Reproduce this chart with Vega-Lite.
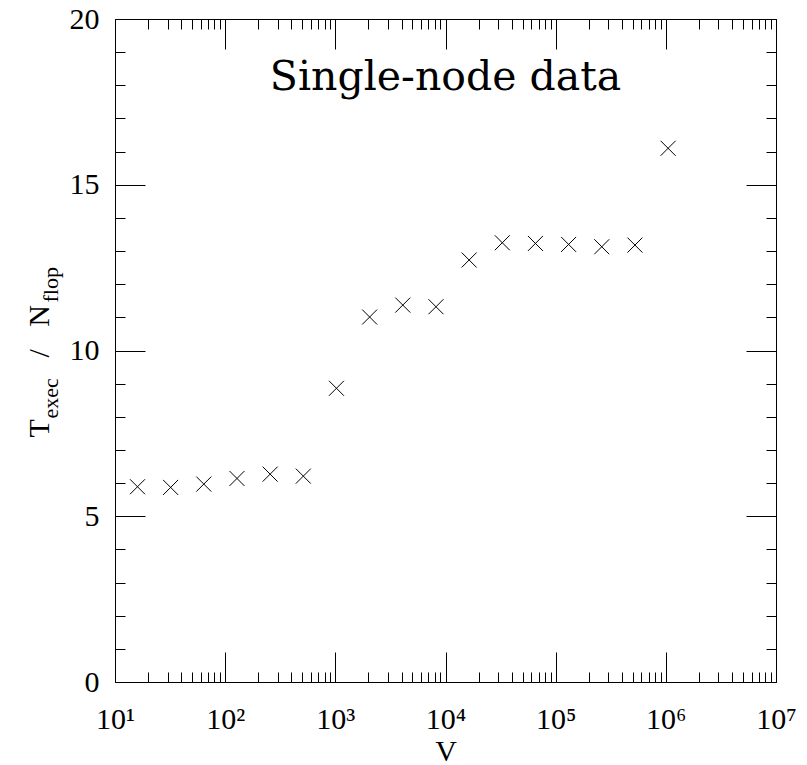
{
  "$schema": "https://vega.github.io/schema/vega-lite/v6.json",
  "width": 661,
  "height": 663,
  "autosize": {"type": "none"},
  "padding": {"left": 115, "top": 19, "right": 31, "bottom": 83},
  "background": "white",
  "view": {"stroke": null},
  "config": {
    "font": "Liberation Serif",
    "axis": {
      "domainColor": "black",
      "tickColor": "black",
      "labelColor": "black",
      "titleColor": "black",
      "domainWidth": 1,
      "tickWidth": 1,
      "grid": false,
      "labelFont": "Liberation Serif",
      "titleFont": "Liberation Serif",
      "labelFontSize": 30,
      "titleFontSize": 30,
      "titleFontWeight": "normal",
      "labelFlush": false,
      "labelOverlap": false
    }
  },
  "data": {
    "values": [
      {"V": 16, "ratio": 5.89},
      {"V": 32, "ratio": 5.87},
      {"V": 64, "ratio": 5.97},
      {"V": 128, "ratio": 6.14},
      {"V": 256, "ratio": 6.27},
      {"V": 512, "ratio": 6.21},
      {"V": 1024, "ratio": 8.86},
      {"V": 2048, "ratio": 11.01},
      {"V": 4096, "ratio": 11.37},
      {"V": 8192, "ratio": 11.32},
      {"V": 16384, "ratio": 12.73},
      {"V": 32768, "ratio": 13.25},
      {"V": 65536, "ratio": 13.23},
      {"V": 131072, "ratio": 13.2},
      {"V": 262144, "ratio": 13.13},
      {"V": 524288, "ratio": 13.18},
      {"V": 1048576, "ratio": 16.1}
    ]
  },
  "resolve": {"axis": {"x": "independent", "y": "independent"}},
  "layer": [
    {
      "mark": {"type": "point", "shape": "M-1,-1L1,1M1,-1L-1,1", "size": 225, "filled": false, "stroke": "black", "strokeWidth": 1, "opacity": 1},
      "encoding": {
        "x": {
          "field": "V", "type": "quantitative",
          "scale": {"type": "log", "domain": [10, 10000000], "nice": false},
          "axis": {
            "orient": "bottom",
            "values": [10,20,30,40,50,60,70,80,90,100,200,300,400,500,600,700,800,900,1000,2000,3000,4000,5000,6000,7000,8000,9000,10000,20000,30000,40000,50000,60000,70000,80000,90000,100000,200000,300000,400000,500000,600000,700000,800000,900000,1000000,2000000,3000000,4000000,5000000,6000000,7000000,8000000,9000000,10000000],
            "tickSize": -30,
            "labelPadding": 52,
            "tickDash": {"condition": {"test": "abs(log(datum.value)/LN10 - round(log(datum.value)/LN10)) > 0.0001", "value": [10, 40]}, "value": []},
            "labelExpr": "abs(log(datum.value)/LN10 - round(log(datum.value)/LN10)) < 0.0001 ? '10' + ['⁰','¹','²','³','⁴','⁵','⁶','⁷'][round(log(datum.value)/LN10)] : ''",
            "title": "V",
            "titleY": 78,
            "titleBaseline": "alphabetic"
          }
        },
        "y": {
          "field": "ratio", "type": "quantitative",
          "scale": {"domain": [0, 20], "nice": false, "zero": false},
          "axis": {
            "orient": "left",
            "values": [0,1,2,3,4,5,6,7,8,9,10,11,12,13,14,15,16,17,18,19,20],
            "tickSize": -30,
            "labelPadding": 46,
            "tickDash": {"condition": {"test": "datum.value % 5 != 0", "value": [10, 40]}, "value": []},
            "labelExpr": "datum.value % 5 == 0 ? datum.label : ''",
            "title": "T",
            "titleX": -67,
            "titleY": 418,
            "titleAngle": 270,
            "titleAlign": "left",
            "titleBaseline": "alphabetic"
          }
        }
      }
    },
    {
      "data": {"values": [{"label": "Single-node data"}]},
      "mark": {"type": "text", "font": "DejaVu Serif", "fontSize": 41, "fontWeight": 400, "baseline": "alphabetic", "align": "center", "fill": "black"},
      "encoding": {
        "text": {"field": "label", "type": "nominal"},
        "x": {
          "datum": 10000, "type": "quantitative",
          "axis": {
            "orient": "top",
            "values": [10,20,30,40,50,60,70,80,90,100,200,300,400,500,600,700,800,900,1000,2000,3000,4000,5000,6000,7000,8000,9000,10000,20000,30000,40000,50000,60000,70000,80000,90000,100000,200000,300000,400000,500000,600000,700000,800000,900000,1000000,2000000,3000000,4000000,5000000,6000000,7000000,8000000,9000000,10000000],
            "tickSize": -30,
            "tickDash": {"condition": {"test": "abs(log(datum.value)/LN10 - round(log(datum.value)/LN10)) > 0.0001", "value": [10, 40]}, "value": []},
            "labels": false,
            "title": null
          }
        },
        "y": {
          "datum": 17.85, "type": "quantitative",
          "axis": {
            "orient": "right",
            "values": [0,1,2,3,4,5,6,7,8,9,10,11,12,13,14,15,16,17,18,19,20],
            "tickSize": -30,
            "tickDash": {"condition": {"test": "datum.value % 5 != 0", "value": [10, 40]}, "value": []},
            "labels": false,
            "title": null
          }
        }
      }
    },
    {
      "mark": {"type": "point", "opacity": 0},
      "encoding": {
        "x": {"field": "V", "type": "quantitative", "axis": null},
        "y": {"field": "ratio", "type": "quantitative", "axis": {"orient": "left", "domain": false, "ticks": false, "labels": false, "title": "exec", "titleFontSize": 22, "titleX": -58, "titleY": 399, "titleAngle": 270, "titleAlign": "left", "titleBaseline": "alphabetic"}}
      }
    },
    {
      "mark": {"type": "point", "opacity": 0},
      "encoding": {
        "x": {"field": "V", "type": "quantitative", "axis": null},
        "y": {"field": "ratio", "type": "quantitative", "axis": {"orient": "left", "domain": false, "ticks": false, "labels": false, "title": "/\u00a0\u00a0\u00a0N", "titleX": -67, "titleY": 338, "titleAngle": 270, "titleAlign": "left", "titleBaseline": "alphabetic"}}
      }
    },
    {
      "mark": {"type": "point", "opacity": 0},
      "encoding": {
        "x": {"field": "V", "type": "quantitative", "axis": null},
        "y": {"field": "ratio", "type": "quantitative", "axis": {"orient": "left", "domain": false, "ticks": false, "labels": false, "title": "flop", "titleFontSize": 22, "titleX": -58, "titleY": 283, "titleAngle": 270, "titleAlign": "left", "titleBaseline": "alphabetic"}}
      }
    }
  ]
}
